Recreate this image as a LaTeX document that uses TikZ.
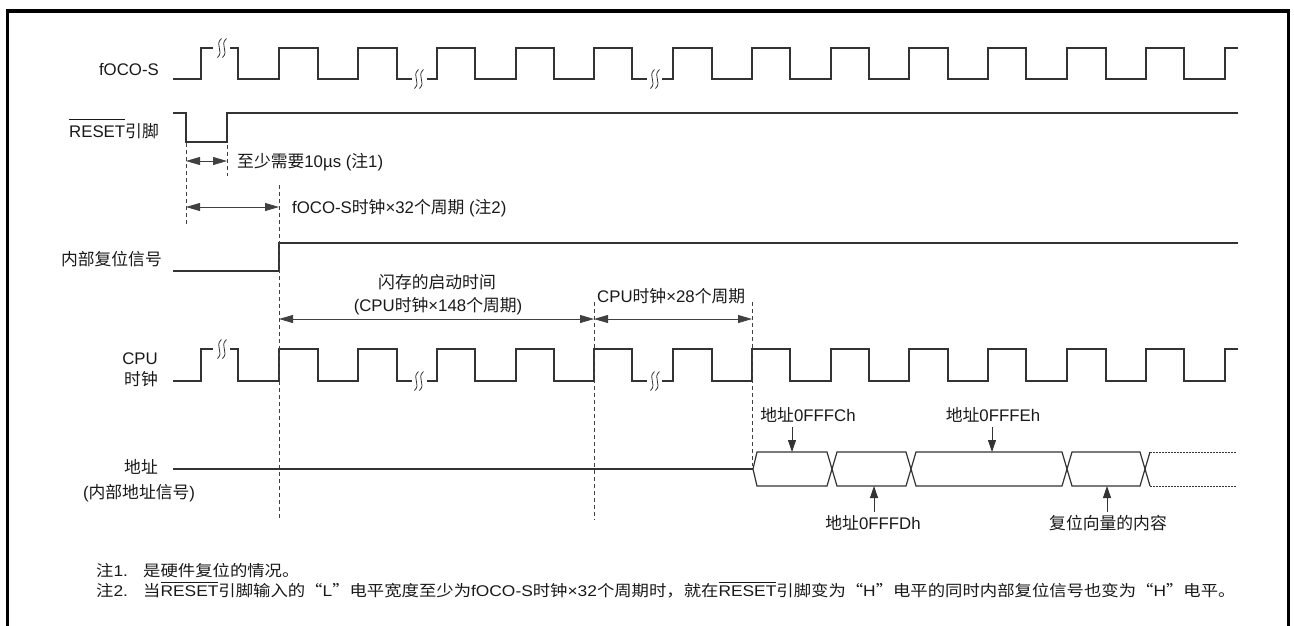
\documentclass[tikz,border=0pt]{standalone}
\usepackage{fontspec}
\setmainfont{Liberation Sans}
\newfontfamily\cjk{Noto Sans CJK SC}
\newfontfamily\notelat{Liberation Sans}[FakeStretch=1.12]
\newfontfamily\notecjk{Noto Sans CJK SC}[FakeStretch=1.12]
\usetikzlibrary{arrows.meta}
\newcommand\curcjk{\cjk}
\newcommand\zh[1]{{\curcjk #1}}
\newsavebox\ovlbox
\newcommand\ovl[2][4pt]{\sbox\ovlbox{#2}\rlap{\rule[\dimexpr\ht\ovlbox+#1\relax]{\wd\ovlbox}{0.9pt}}\usebox\ovlbox}
\tikzset{
  sig/.style={line width=1.2pt, draw=black!80, line join=miter},
  brkst/.style={line width=0.8pt, draw=black!80},
  dsh/.style={line width=0.8pt, draw=black!75, dash pattern=on 4pt off 3pt},
  dimarr/.style={line width=0.8pt, draw=black!75, {Triangle[length=14pt,width=8pt]}-{Triangle[length=14pt,width=8pt]}},
  ptr/.style={line width=0.8pt, draw=black!80, -{Triangle[length=12pt,width=8pt]}},
  lbl/.style={inner sep=0pt, text=black!90, font=\fontsize{16.8pt}{20pt}\selectfont},
  note/.style={inner sep=0pt, text=black!90, font=\renewcommand\curcjk{\notecjk}\notelat\fontsize{15.5pt}{18pt}\selectfont},
}
\newcommand\brk[2]{%
  \begin{scope}[shift={(#1,#2)}]
    \draw[brkst] (-0.5,-9.5) .. controls (-8,-3) and (2.5,3) .. (-4.5,9.5);
    \draw[brkst] (4.5,-9.5) .. controls (-3,-3) and (7.5,3) .. (0.5,9.5);
  \end{scope}}
\newcommand\clkwave[2]{%
  \draw[sig] (173,#2) -- (201,#2) -- (201,#1) -- (213,#1);
  \brk{222}{#1}
  \draw[sig] (230,#1) -- (238,#1) -- (238,#2) -- (279,#2) -- (279,#1) -- (318,#1) -- (318,#2) -- (358,#2) -- (358,#1) -- (397,#1) -- (397,#2) -- (412,#2);
  \brk{419}{#2}
  \draw[sig] (427,#2) -- (437,#2) -- (437,#1) -- (475,#1) -- (475,#2) -- (516,#2) -- (516,#1) -- (554,#1) -- (554,#2) -- (594,#2) -- (594,#1) -- (632,#1) -- (632,#2) -- (647,#2);
  \brk{655}{#2}
  \draw[sig] (662,#2) -- (673,#2) -- (673,#1) -- (712,#1) -- (712,#2) -- (752,#2) -- (752,#1) -- (790,#1) -- (790,#2) -- (831,#2) -- (831,#1) -- (869,#1) -- (869,#2) -- (909,#2) -- (909,#1) -- (948,#1) -- (948,#2) -- (988,#2) -- (988,#1) -- (1026,#1) -- (1026,#2) -- (1067,#2) -- (1067,#1) -- (1106,#1) -- (1106,#2) -- (1146,#2) -- (1146,#1) -- (1184,#1) -- (1184,#2) -- (1225,#2) -- (1225,#1) -- (1238,#1);
}
\begin{document}
\begin{tikzpicture}[x=1pt,y=-1pt]
\useasboundingbox (0,0) rectangle (1294,625);
% frame
\draw[line width=3.7pt, line join=miter] (7.5,640) -- (7.5,11) -- (1288.5,11) -- (1288.5,640);

% labels
\node[lbl, anchor=base east] (lfoco) at (159,75) {fOCO-S};
\node[lbl, anchor=base east] (lreset) at (159,137) {\ovl[5pt]{RESET}\zh{引脚}};
\node[lbl, anchor=base east] (lint) at (162,265) {\zh{内部复位信号}};
\node[lbl, anchor=base east] (lcpu1) at (158,364) {CPU};
\node[lbl, anchor=base east] (lcpu2) at (158,385) {\zh{时钟}};
\node[lbl, anchor=base] (ladr1) at (141,473) {\zh{地址}};
\node[lbl, anchor=base] (ladr2) at (139,498) {(\zh{内部地址信号})};

% clocks
\clkwave{48}{79}
\clkwave{349}{381}

% RESET pin
\draw[sig] (173,113) -- (186,113) -- (186,142) -- (227,142) -- (227,113) -- (1238,113);
% internal reset
\draw[sig] (173,271) -- (279,271) -- (279,243) -- (1238,243);

% timing reference coordinates
\coordinate (t0a) at (186,143); \coordinate (t0b) at (186,226);
\coordinate (t1a) at (227,145); \coordinate (t1b) at (227,176);
\coordinate (t2a) at (279,185); \coordinate (t2b) at (279,520);
\coordinate (t3a) at (594,302); \coordinate (t3b) at (594,520);
\coordinate (t4a) at (752,302); \coordinate (t4b) at (752,466);
\draw[dsh] (t0a) -- (t0b);
\draw[dsh] (t1a) -- (t1b);
\draw[dsh] (t2a) -- (t2b);
\draw[dsh] (t3a) -- (t3b);
\draw[dsh] (t4a) -- (t4b);

% dimension arrows
\coordinate (d1l) at (186,161); \coordinate (d1r) at (227,161);
\coordinate (d2l) at (186,207); \coordinate (d2r) at (279,207);
\coordinate (d3l) at (279,319); \coordinate (d3r) at (594,319);
\coordinate (d4r) at (752,319);
\draw[dimarr] (d1l) -- (d1r);
\draw[dimarr] (d2l) -- (d2r);
\draw[dimarr] (d3l) -- (d3r);
\draw[dimarr] (d3r) -- (d4r);

\node[lbl, anchor=base west] (txt1) at (237,167) {\zh{至少需要}10µs (\zh{注}1)};
\node[lbl, anchor=base west] (txt2) at (292,213) {fOCO-S\zh{时钟}×32\zh{个周期} (\zh{注}2)};
\node[lbl, anchor=base] (txt3) at (437,288) {\zh{闪存的启动时间}};
\node[lbl, anchor=base] (txt4) at (438,311) {(CPU\zh{时钟}×148\zh{个周期})};
\node[lbl, anchor=base west] (txt5) at (597,302) {CPU\zh{时钟}×28\zh{个周期}};

% address
\draw[sig] (173,469) -- (753,469);
\draw[sig] (753,469) -- (757,452) -- (827,452) -- (837,486) -- (906,486) -- (916,452) -- (1062,452) -- (1072,486) -- (1140,486) -- (1150,452);
\draw[sig] (753,469) -- (757,486) -- (827,486) -- (837,452) -- (906,452) -- (916,486) -- (1062,486) -- (1072,452) -- (1140,452) -- (1150,486);
\draw[line width=1pt, draw=black!80, dash pattern=on 1.5pt off 1.5pt] (1150,452) -- (1237,452);
\draw[line width=1pt, draw=black!80, dash pattern=on 1.5pt off 1.5pt] (1150,486) -- (1237,486);

\node[lbl, anchor=base] (a1) at (808,421) {\zh{地址}0FFFCh};
\node[lbl, anchor=base] (a3) at (993,421) {\zh{地址}0FFFEh};
\node[lbl, anchor=base] (a2) at (873,529) {\zh{地址}0FFFDh};
\node[lbl, anchor=base] (a4) at (1108,529) {\zh{复位向量的内容}};
\coordinate (p1a) at (792,427); \coordinate (p1b) at (792,452);
\coordinate (p3a) at (992,427); \coordinate (p3b) at (992,452);
\coordinate (p2a) at (874,512); \coordinate (p2b) at (874,486);
\coordinate (p4a) at (1107,512); \coordinate (p4b) at (1107,486);
\draw[ptr] (p1a) -- (p1b);
\draw[ptr] (p3a) -- (p3b);
\draw[ptr] (p2a) -- (p2b);
\draw[ptr] (p4a) -- (p4b);

% notes
\node[note, anchor=base west] (n1a) at (96,576.5) {\zh{注}1.};
\node[note, anchor=base west] (n1b) at (143,576.5) {\zh{是硬件复位的情况。}};
\node[note, anchor=base west] (n2a) at (96,596) {\zh{注}2.};
\node[note, anchor=base west] (n2b) at (143,596) {\zh{当}\ovl[2.2pt]{RESET}\zh{引脚输入的“}L\zh{”电平宽度至少为}fOCO-S\zh{时钟}×32\zh{个周期时，就在}\ovl[2.2pt]{RESET}\zh{引脚变为“}H\zh{”电平的同时内部复位信号也变为“}H\zh{”电平。}};
\end{tikzpicture}
\end{document}
